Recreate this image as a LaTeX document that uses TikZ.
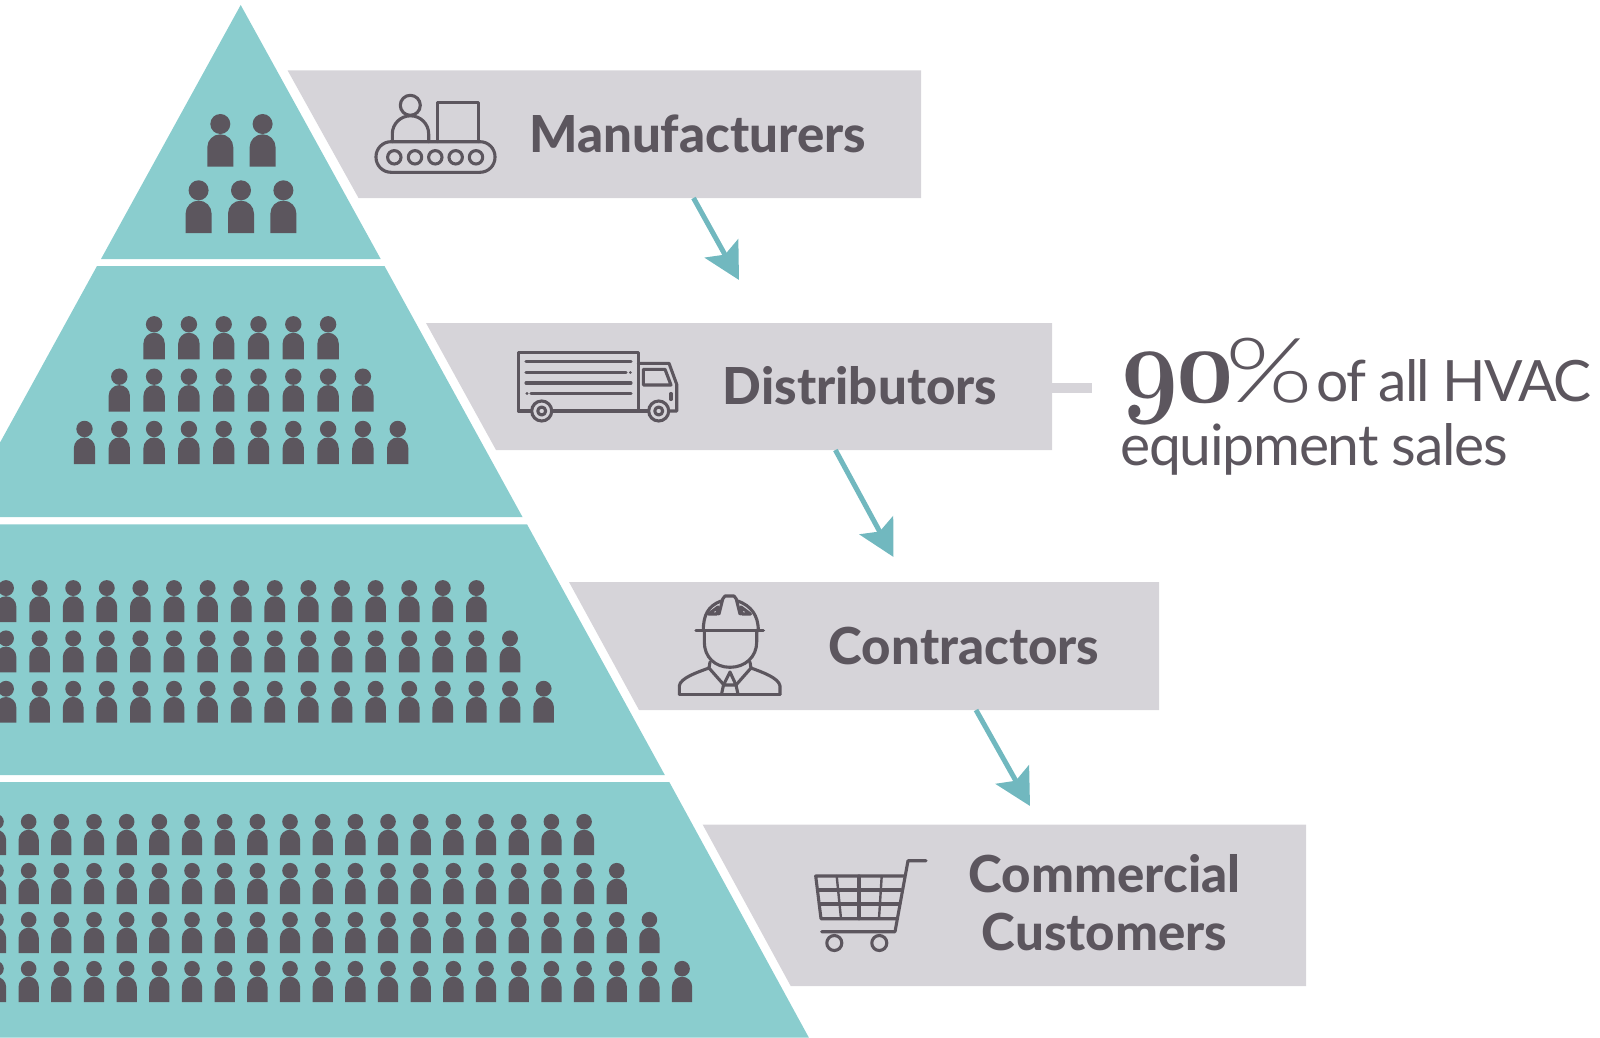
\documentclass[tikz,border=0pt]{standalone}
\usepackage{fontspec}
\usepackage{graphicx}
\setmainfont{Lato}
\newfontfamily\oldfig[Numbers=OldStyle]{Latin Modern Roman}
\newfontfamily\lightfig{Lato Light}
\newfontfamily\heavyfig{Lato Heavy}
\usetikzlibrary{arrows.meta}
\definecolor{tealfill}{HTML}{8ACDCE}
\definecolor{tealline}{HTML}{71B8BF}
\definecolor{boxgray}{HTML}{D6D4D9}
\definecolor{inkdark}{HTML}{5C565E}
\tikzset{
  person/.pic={
    \fill[inkdark] (-13,0) -- (-13,19.4) arc[start angle=180,end angle=0,radius=13] -- (13,0) -- cycle;
    \fill[inkdark] (0,42.7) circle[radius=10];
  },
  tier/.style={fill=tealfill},
  bandbox/.style={fill=boxgray},
  bandlabel/.style={text=inkdark,inner sep=0pt,font=\fontsize{51}{58}\selectfont\heavyfig,align=center},
  flowarrow/.style={draw=tealline,line width=5pt,-{Stealth[length=36pt,width=38pt,inset=7pt]}},
  icon/.style={draw=inkdark,line width=3.1pt,line join=round,line cap=round},
  saying/.style={text=inkdark,inner sep=0pt,anchor=base west}
}
\begin{document}
\begin{tikzpicture}[x=1pt,y=1pt]
  \useasboundingbox (0,0) rectangle (1600,-1038);
  \clip (0,0) rectangle (1600,-1038);
  % pyramid
  \fill[tier] (240.7,-5) -- (380.7,-259) -- (101,-259) -- cycle;
  \fill[tier] (97,-266) -- (384.5,-266) -- (522.5,-517) -- (0,-517) -- (0,-442.6) -- cycle;
  \fill[tier] (0,-524.3) -- (527,-524.3) -- (664.8,-775) -- (0,-775) -- cycle;
  \fill[tier] (0,-782) -- (669.3,-782) -- (808.8,-1037.5) -- (0,-1037.5) -- cycle;
  % people
  \pic at (220.3,-166.7) {person};
  \pic at (262.6,-166.7) {person};
  \foreach \i in {0,1,2}
    \pic at ({198.6+42.4*\i},-233) {person};
  \foreach \first/\last/\y in {2/7/359.3,1/8/411.7,0/9/464}
    \foreach \i in {\first,...,\last}
      \pic[scale=.82] at ({84.5+34.8*\i},-\y) {person};
  \foreach \last/\y in {14/622,15/672.3,16/722.7}
    \foreach \i in {0,...,\last}
      \pic[scale=.795] at ({6+33.6*\i},-\y) {person};
  \foreach \last/\y in {18/855,19/904,20/953,21/1002}
    \foreach \i in {0,...,\last}
      \pic[scale=.78] at ({-4+32.67*\i},-\y) {person};
  % bands
  \fill[bandbox] (287.6,-70.4) -- (921,-70.4) -- (921,-198) -- (358.5,-198) -- cycle;
  \fill[bandbox] (426,-323) -- (1052,-323) -- (1052,-450) -- (496,-450) -- cycle;
  \fill[bandbox] (569,-582) -- (1159,-582) -- (1159,-710) -- (639,-710) -- cycle;
  \fill[bandbox] (702.7,-824.7) -- (1306,-824.7) -- (1306,-986) -- (790.7,-986) -- cycle;
  \fill[bandbox] (1052,-383.3) rectangle (1092,-392.7);
  % labels
  \node[bandlabel,anchor=base] (manufacturers) at (697.5,-152) {Manufacturers};
  \node[bandlabel,anchor=base] (distributors) at (860,-404) {Distributors};
  \node[bandlabel,anchor=base] (contractors) at (964,-664) {Contractors};
  \node[bandlabel] (customers) at (1104.6,-903) {Commercial\\Customers};
  % arrows
  \coordinate (startA) at (693.5,-198);
  \coordinate (tipA) at (739,-280);
  \coordinate (startB) at (835.4,-450);
  \coordinate (tipB) at (893.5,-557);
  \coordinate (startC) at (976,-710);
  \coordinate (tipC) at (1030,-806);
  \draw[flowarrow] (startA) -- (tipA);
  \draw[flowarrow] (startB) -- (tipB);
  \draw[flowarrow] (startC) -- (tipC);
  % share
  \node[saying] (share) at (1117,-402) {\fontsize{110}{110}\selectfont\scalebox{.93}[1]{\oldfig\bfseries 9\kern-10pt 0}\kern-13pt\fontsize{90}{90}\selectfont\lightfig\scalebox{1.25}[1]{\%}};
  \node[saying,font=\fontsize{57}{57}\selectfont\addfontfeature{LetterSpace=-3.3}] (allhvac) at (1316,-401) {of all HVAC};
  \node[saying,font=\fontsize{57}{57}\selectfont\addfontfeature{LetterSpace=-2.2}] (equipment) at (1120,-465) {equipment sales};
  % conveyor
  \draw[icon,rounded corners=15pt] (376,-141.7) rectangle (495,-172.3);
  \foreach \x in {394.3,415,435.3,455.7,476}
    \draw[icon] (\x,-157.3) circle[radius=6.7];
  \draw[icon] (410.3,-105.3) circle[radius=10];
  \draw[icon] (392.3,-141.7) -- (392.3,-134) arc[start angle=180,end angle=0,radius=18.2] -- (428.7,-141.7);
  \draw[icon] (437.7,-141.7) -- (437.7,-102.3) -- (478.3,-102.3) -- (478.3,-141.7);
  % truck
  \draw[icon] (531,-411) -- (518.3,-411) -- (518.3,-352.3) -- (638.3,-352.3) -- (638.3,-411);
  \draw[icon] (552.5,-411) -- (648,-411);
  \draw[icon] (638.3,-363.3) -- (669,-363.3) -- (676.7,-384.3) -- (676.7,-411) -- (669.5,-411);
  \draw[icon] (643.3,-369.3) -- (665,-369.3) -- (671,-385) -- (643.3,-385) -- cycle;
  \draw[icon] (671,-393.5) -- (671,-399.5);
  \draw[icon] (526,-361.7) -- (631,-361.7);
  \draw[icon] (526,-372.3) -- (626,-372.3);
  \draw[icon] (630.3,-372.3) -- (630.4,-372.3);
  \draw[icon] (526,-383) -- (631,-383);
  \draw[icon] (527,-393.7) -- (527.1,-393.7);
  \draw[icon] (531,-393.7) -- (631,-393.7);
  \foreach \x in {541.7,658.7} {
    \draw[icon] (\x,-411) circle[radius=10];
    \draw[icon] (\x,-411) circle[radius=4];
  }
  % worker
  \draw[icon,line width=3.5pt] (696,-630.7) -- (763.3,-630.7);
  \draw[icon] (703.3,-630.7) .. controls (703.3,-615) and (708,-606) .. (721,-601);
  \draw[icon] (758.3,-630.7) .. controls (758.3,-615) and (751,-606) .. (738,-601);
  \draw[icon] (719,-614) -- (722,-602) -- (722.7,-599) -- (725,-596) -- (734,-596) -- (736.3,-599) -- (737,-602) -- (740,-614);
  \draw[icon] (708.5,-614) -- (718,-607) -- (717,-614) -- cycle;
  \draw[icon] (750.5,-614) -- (741,-607) -- (742,-614) -- cycle;
  \draw[icon] (704.3,-630.7) -- (704.3,-642) .. controls (704.3,-657) and (715,-667.3) .. (730,-667.3) .. controls (745,-667.3) and (756.7,-657) .. (756.7,-642) -- (756.7,-630.7);
  \draw[icon] (679.3,-694.3) -- (780,-694.3);
  \draw[icon] (679.3,-694.3) -- (679.3,-686) .. controls (680,-678) and (698,-672) .. (709,-668) -- (710,-662);
  \draw[icon] (780,-694.3) -- (780,-686) .. controls (779,-678) and (762,-672) .. (751,-668) -- (750,-662);
  \draw[icon] (709,-668) -- (724,-685);
  \draw[icon] (751,-668) -- (736,-685);
  \draw[icon] (730,-672) -- (723.5,-685) -- (736,-685) -- cycle;
  \draw[icon] (723.5,-685) -- (721.5,-694.3);
  \draw[icon] (736,-685) -- (738,-694.3);
  % cart
  \draw[icon] (926,-860.7) -- (908,-860.7) -- (895,-931.7) -- (821.7,-931.7);
  \draw[icon] (904,-876) -- (815.7,-876) -- (821,-918.7) -- (896.5,-918.7);
  \draw[icon] (818,-890) -- (901,-890);
  \draw[icon] (819.5,-904) -- (899,-904);
  \draw[icon] (859,-876) -- (859,-918.7);
  \draw[icon,line width=2.4pt] (836.7,-876) -- (841,-918.7);
  \draw[icon,line width=2.4pt] (881.7,-876) -- (879,-918.7);
  \draw[icon] (834.3,-943) circle[radius=7.5];
  \draw[icon] (879.3,-943) circle[radius=7.5];
\end{tikzpicture}
\end{document}
